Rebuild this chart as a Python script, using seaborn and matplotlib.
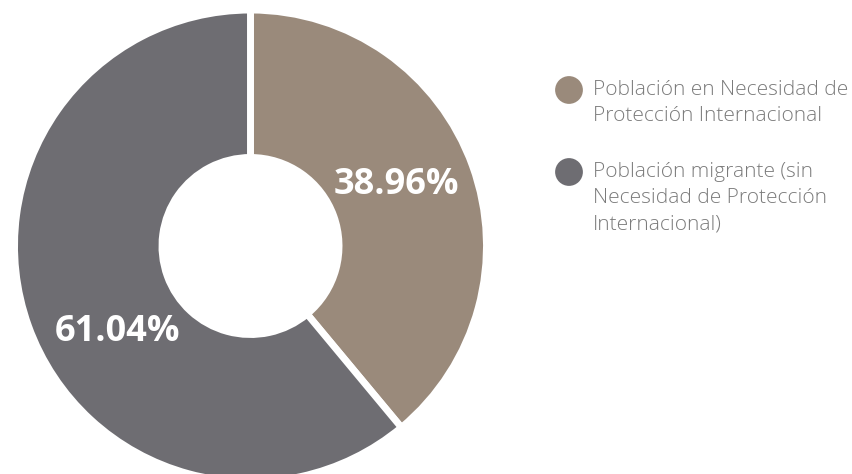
import numpy as np
import seaborn as sns
import matplotlib.pyplot as plt

# datos
categorias = ['Población en Necesidad de\nProtección Internacional',
              'Población migrante (sin\nNecesidad de Protección\nInternacional)']
porcentajes = [38.96, 61.04]
colores = ['#9a8a7b', '#6e6d72']

sns.set_theme(style='white')
plt.rcParams['font.family'] = ['Open Sans', 'DejaVu Sans']

fig = plt.figure(figsize=(8.52, 4.74), dpi=100)

# donut
ax = fig.add_axes([14.5 / 852, -8 / 474, 472 / 852, 472 / 474])
wedges, texts, autotexts = ax.pie(
    porcentajes, colors=sns.color_palette(colores), startangle=90, counterclock=False,
    radius=1, autopct=lambda p: f'{p:.2f}%', pctdistance=0.67,
    wedgeprops=dict(width=0.625, edgecolor='white', linewidth=5),
    textprops=dict(color='white', fontsize=26, fontweight='bold'))
ax.set_xlim(-1, 1)
ax.set_ylim(-1, 1)
ax.set_aspect('equal')

# pequeño ajuste angular de las etiquetas
desplaz = [3, 13]
for w, t, d in zip(wedges, autotexts, desplaz):
    ang = np.deg2rad((w.theta1 + w.theta2) / 2 + d)
    t.set_position((0.67 * np.cos(ang), 0.67 * np.sin(ang)))

# leyenda
lax = fig.add_axes([0, 0, 1, 1])
lax.set_xlim(0, 852)
lax.set_ylim(474, 0)
lax.axis('off')
filas = [89, 171]
for cat, col, y in zip(categorias, colores, filas):
    lax.scatter([569], [y + 1], s=400, color=col, edgecolor='none')
    lax.text(593, y - 9, cat, color='#7b7b7b', fontsize=15, fontweight='light',
             va='top', ha='left', linespacing=1.42)

plt.savefig('out.png', dpi=100)
